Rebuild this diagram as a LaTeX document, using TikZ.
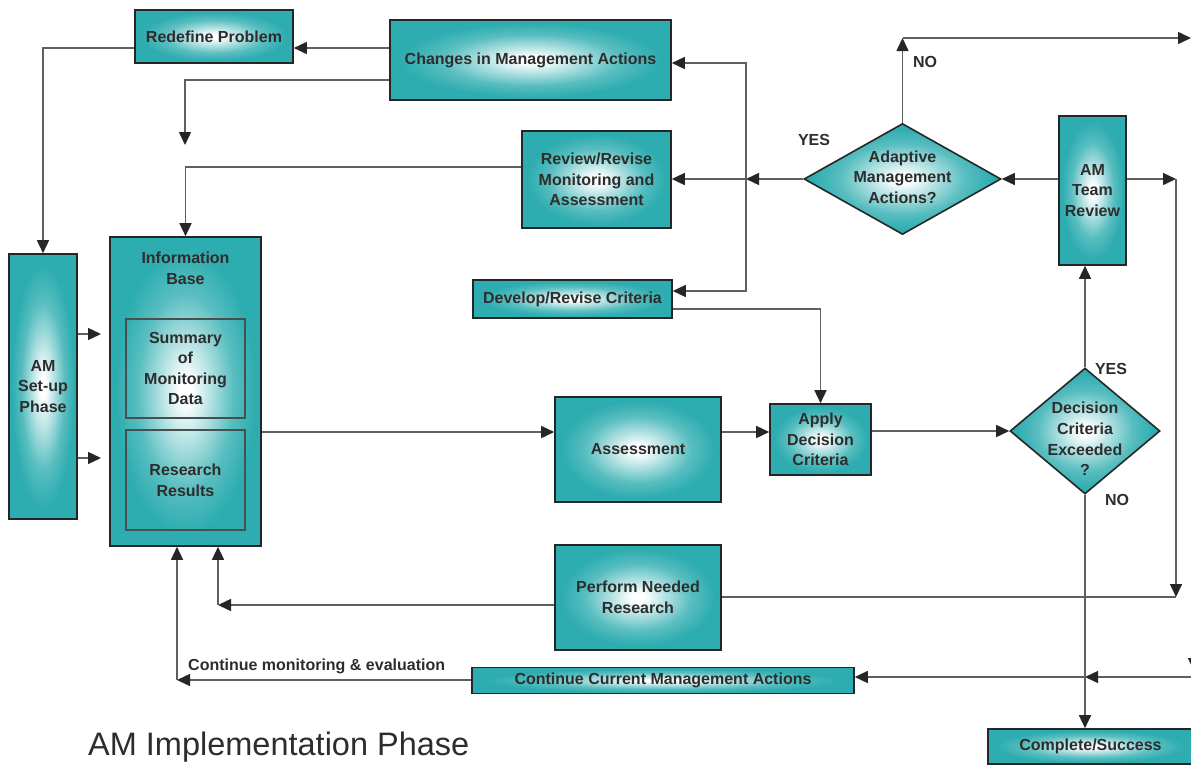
\documentclass[tikz,border=0pt]{standalone}
\usepackage{fontspec}
\setmainfont{Liberation Sans}
\usetikzlibrary{shapes.geometric,arrows.meta,calc}
\definecolor{tealc}{RGB}{46,173,176}
\definecolor{linegray}{RGB}{95,95,95}
\definecolor{txtgray}{RGB}{45,45,45}
\definecolor{inboxc}{RGB}{70,80,80}
\pgfdeclareradialshading{tealglow}{\pgfpoint{0bp}{0bp}}{color(0bp)=(white); color(2bp)=(white); color(9bp)=(tealc!40!white); color(16bp)=(tealc!80!white); color(23bp)=(tealc); color(50bp)=(tealc)}
\newcommand{\boxfont}{\bfseries\fontsize{16}{20.6}\selectfont}
\tikzset{
  box/.style={rectangle, draw=black!85, line width=1.6pt, shade, shading=tealglow, inner sep=0pt, align=center, font=\boxfont, text=txtgray},
  dia/.style={diamond, draw=black!85, line width=1.6pt, shade, shading=tealglow, inner sep=0pt},
  inbox/.style={rectangle, draw=inboxc, line width=1.3pt, inner sep=0pt, align=center, font=\boxfont, text=txtgray},
  txt/.style={inner sep=0pt, align=center, font=\boxfont, text=txtgray},
  arr/.style={draw=linegray, line width=1.5pt, -{Triangle[length=13pt,width=12pt,color=black!85]}},
  ln/.style={draw=linegray, line width=1.5pt},
}
\begin{document}
\begin{tikzpicture}[x=1pt,y=-1pt]
\useasboundingbox (0,0) rectangle (1191,766);
% nodes
\node[box, minimum width=158, minimum height=53] (redef) at (214,36.5) {Redefine Problem};
\node[box, minimum width=281, minimum height=80] (chg) at (530.5,60) {Changes in Management Actions};
\node[box, minimum width=149, minimum height=97] (rev) at (596.5,179.5) {Review/Revise\\Monitoring and\\Assessment};
\node[dia, minimum width=197, minimum height=111] (ama) at (902.5,179) {};
\node[txt] (amat) at (902.5,177) {Adaptive\\Management\\Actions?};
\node[box, minimum width=67, minimum height=149] (team) at (1092.5,190.5) {AM\\Team\\Review};
\node[box, minimum width=151, minimum height=309] (ib) at (185.5,391.5) {};
\node[txt] (ibt) at (185.5,268) {Information\\Base};
\node[inbox, minimum width=119, minimum height=99] (sum) at (185.5,368.5) {Summary\\of\\Monitoring\\Data};
\node[inbox, minimum width=119, minimum height=100] (res) at (185.5,480) {Research\\Results};
\node[box, minimum width=68, minimum height=265] (setup) at (43,386.5) {AM\\Set-up\\Phase};
\node[box, minimum width=199, minimum height=38] (dev) at (572.5,299) {Develop/Revise Criteria};
\node[box, minimum width=166, minimum height=105] (assess) at (638,449.5) {Assessment};
\node[box, minimum width=101, minimum height=71] (apply) at (820.5,439.5) {Apply\\Decision\\Criteria};
\node[dia, minimum width=150, minimum height=126] (dce) at (1085,431) {};
\node[txt] (dcet) at (1085,439) {Decision\\Criteria\\Exceeded\\?};
\node[box, minimum width=166, minimum height=105] (perf) at (638,597.5) {Perform Needed\\Research};
\node[box, minimum width=382, minimum height=26] (cont) at (663,680.5) {Continue Current Management Actions};
\node[box, minimum width=205, minimum height=35] (done) at (1090.5,746.5) {Complete/Success};
% labels
\node[txt] (yes1) at (814,140) {YES};
\node[txt] (no1) at (925,62) {NO};
\node[txt] (yes2) at (1111,369) {YES};
\node[txt] (no2) at (1117,500) {NO};
\node[txt, anchor=south west] (cme) at (188,674) {Continue monitoring \& evaluation};
\node[inner sep=0pt, anchor=south west, font=\fontsize{32.5}{36}\selectfont, text=txtgray] (title) at (88,762) {AM Implementation Phase};
% coordinates
\coordinate (c3) at (185,145);
\coordinate (j1) at (746,179);
\coordinate (j2) at (902.5,38);
\coordinate (e1) at (1191,38);
\coordinate (j3) at (1176,179);
\coordinate (j4) at (1176,597);
\coordinate (j5) at (218,605);
\coordinate (j6) at (177,680);
\coordinate (j7) at (1085,677);
\coordinate (e2) at (1196,677);
\coordinate (e3a) at (1194,640);
\coordinate (e3) at (1194,671);
\coordinate (s1) at (101,334);
\coordinate (s2) at (101,458);
% connectors
\draw[arr] (chg.west |- 0,48) -- (redef.east |- 0,48);
\draw[arr] (redef.west |- 0,48) -| (setup.north);
\draw[arr] (chg.west |- 0,80) -| (c3);
\draw[arr] (ama.west) -- (j1);
\draw[arr] (j1) -- (rev.east |- j1);
\draw[arr] (j1) |- (chg.east |- 0,63);
\draw[arr] (j1) |- (dev.east |- 0,291);
\draw[arr] (rev.west |- 0,167) -| (ib.north);
\draw[arr] (ama.north) -- (j2);
\draw[arr] (j2) -- (e1);
\draw[arr] (team.west |- ama.east) -- (ama.east);
\draw[arr] (team.east |- j3) -- (j3);
\draw[arr] (j3) -- (j4);
\draw[ln] (perf.east |- j4) -- (j4);
\draw[arr] (perf.west |- j5) -- (j5);
\draw[arr] (j5) -- (j5 |- ib.south);
\draw[arr] (cont.west |- j6) -- (j6);
\draw[arr] (j6) -- (j6 |- ib.south);
\draw[arr] (e2) -- (j7);
\draw[arr] (j7) -- (cont.east |- j7);
\draw[arr] (e3a) -- (e3);
\draw[arr] (dce.south) -- (dce.south |- done.north);
\draw[arr] (dce.north) -- (dce.north |- team.south);
\draw[arr] (apply.east |- dce.west) -- (dce.west);
\draw[arr] (assess.east |- 0,432) -- (apply.west |- 0,432);
\draw[arr] (ib.east |- 0,432) -- (assess.west |- 0,432);
\draw[arr] (dev.east |- 0,309) -| (apply.north);
\draw[arr] (setup.east |- s1) -- (s1);
\draw[arr] (setup.east |- s2) -- (s2);
\end{tikzpicture}
\end{document}
